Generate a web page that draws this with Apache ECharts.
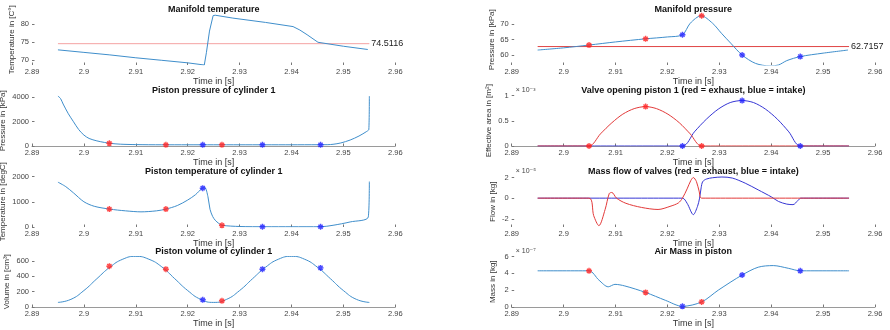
<!DOCTYPE html>
<html>
<head>
<meta charset="utf-8">
<title>Cylinder 1 cycle</title>
<script src="https://cdn.jsdelivr.net/npm/echarts@6/dist/echarts.min.js"></script>
<style>
  html, body { margin: 0; padding: 0; background: #fff; }
  #chart { width: 890px; height: 330px; }
</style>
</head>
<body>
<div id="chart"></div>
<script>
// x ticks shared by all plots
const timeTicks = [2.89, 2.9, 2.91, 2.92, 2.93, 2.94, 2.95, 2.96]

// valve events (red = exhaust, blue = intake)
const exhaustTimes = [2.9049, 2.9158, 2.9266]
const intakeTimes = [2.9229, 2.9344, 2.9456]

// manifold temperature [C]
const manifoldTempTicks = [70, 75, 80]
const manifoldTempTime = [2.895, 2.9, 2.905, 2.91, 2.915, 2.92, 2.9232, 2.9236, 2.9242, 2.9249, 2.9253, 2.9287, 2.935, 2.9403, 2.9416, 2.943, 2.9451, 2.95, 2.9547]
const manifoldTemp = [72.8, 72.1, 71.4, 70.6, 69.9, 69.2, 68.6, 72.0, 78.0, 82.3, 82.4, 81.6, 80.4, 79.25, 78.3, 77.0, 74.9, 73.8, 72.9]
const manifoldTempMean = 74.5116

// piston pressure [kPa]
const pressureTicks = [0, 2000, 4000]
const pressureTime = [2.895, 2.8955, 2.896, 2.897, 2.898, 2.899, 2.9, 2.901, 2.9025, 2.904, 2.905, 2.907, 2.91, 2.915, 2.92, 2.925, 2.93, 2.935, 2.94, 2.945, 2.947, 2.948, 2.9495, 2.9513, 2.953, 2.9545, 2.9549, 2.955]
const pistonPressure = [4100, 3900, 3450, 2650, 1990, 1350, 900, 620, 420, 290, 220, 150, 115, 100, 100, 100, 100, 100, 100, 105, 110, 140, 250, 490, 820, 1200, 1360, 4100]
const pressureExhaustMarks = [220, 100, 100]
const pressureIntakeMarks = [100, 100, 100]

// piston temperature [degC]
const pistonTempTicks = [0, 1000, 2000]
const pistonTempTime = [2.895, 2.8965, 2.898, 2.9, 2.902, 2.905, 2.908, 2.911, 2.914, 2.9158, 2.918, 2.92, 2.9215, 2.9228, 2.9233, 2.9239, 2.9243, 2.9248, 2.9253, 2.926, 2.9266, 2.93, 2.935, 2.94, 2.9456, 2.948, 2.9513, 2.9548, 2.955]
const pistonTemp = [1776, 1600, 1350, 1000, 820, 708, 640, 600, 640, 708, 850, 1068, 1280, 1536, 1560, 1200, 700, 420, 268, 140, 68, 20, 10, 10, 10, 68, 200, 400, 1800]
const tempExhaustMarks = [708, 708, 68]
const tempIntakeMarks = [1536, 10, 10]

// piston volume [cm3]
const volumeTicks = [0, 200, 400, 600]
const volumeTime = [2.895, 2.8975, 2.9, 2.9025, 2.905, 2.9075, 2.91, 2.9125, 2.915, 2.9175, 2.92, 2.9225, 2.925, 2.9275, 2.93, 2.9325, 2.935, 2.9375, 2.94, 2.9425, 2.945, 2.9475, 2.95, 2.9525, 2.955]
const pistonVolume = [60, 100, 215, 370, 520, 625, 662, 625, 525, 370, 215, 100, 60, 100, 215, 370, 520, 625, 662, 625, 520, 370, 215, 100, 60]
const volumeExhaustMarks = [533, 494, 81]
const volumeIntakeMarks = [94, 494, 511]

// manifold pressure [kPa]
const manifoldPressTicks = [60, 65, 70]
const manifoldPressTime = [2.895, 2.9, 2.9049, 2.91, 2.9158, 2.92, 2.9229, 2.9244, 2.9265, 2.9287, 2.9304, 2.9322, 2.9344, 2.937, 2.9398, 2.9414, 2.943, 2.9456, 2.95, 2.9548]
const manifoldPress = [61.6, 62.3, 63.2, 64.2, 65.2, 65.8, 66.5, 70.2, 72.6, 70.2, 67.0, 63.8, 60.0, 57.3, 56.5, 56.8, 58.2, 59.5, 60.6, 61.6]
const manifoldPressMean = 62.7157
const manifoldExhaustMarks = [63.2, 65.2, 72.6]
const manifoldIntakeMarks = [66.5, 60.0, 59.5]

// valve effective area [1e-3 m2]
const areaTicks = [0, 0.5, 1]
const exhaustAreaTime = [2.895, 2.9049, 2.9071, 2.9093, 2.9114, 2.9136, 2.9158, 2.9179, 2.9201, 2.9223, 2.9244, 2.9266, 2.955]
const exhaustArea = [0, 0, 0.24, 0.46, 0.63, 0.74, 0.78, 0.74, 0.63, 0.46, 0.24, 0, 0]
const intakeAreaTime = [2.895, 2.9229, 2.9252, 2.9275, 2.9298, 2.9321, 2.9344, 2.9366, 2.9389, 2.9412, 2.9434, 2.9456, 2.955]
const intakeArea = [0, 0, 0.28, 0.53, 0.73, 0.86, 0.9, 0.86, 0.73, 0.53, 0.28, 0, 0]
const areaExhaustMarks = [0, 0.78, 0]
const areaIntakeMarks = [0, 0.9, 0]

// valve mass flow [1e-5 kg]
const flowTicks = [-2, 0, 2]
const exhaustFlowTime = [2.895, 2.9049, 2.9058, 2.9068, 2.908, 2.9088, 2.9093, 2.9102, 2.912, 2.915, 2.9182, 2.9205, 2.9221, 2.9229, 2.9238, 2.9245, 2.925, 2.9256, 2.9261, 2.9266, 2.955]
const exhaustFlow = [0, 0, -1.7, -2.67, -1.1, 0.45, 0.55, 0, -0.5, -0.9, -1.1, -0.8, -0.47, 0, 0.9, 1.7, 2.0, 1.6, 0.7, 0, 0]
const intakeFlowTime = [2.895, 2.9229, 2.9238, 2.925, 2.9258, 2.9262, 2.9265, 2.9268, 2.9275, 2.9287, 2.9305, 2.9325, 2.935, 2.9375, 2.9401, 2.9414, 2.943, 2.9442, 2.9452, 2.9457, 2.955]
const intakeFlow = [0, 0, -0.5, -1.6, -0.8, 0, 1.0, 1.6, 1.85, 1.98, 2.05, 1.95, 1.45, 0.8, 0.1, -0.32, -0.58, -0.63, -0.2, 0, 0]

// air mass in piston [1e-7 kg]
const airMassTicks = [0, 2, 4, 6]
const airMassTime = [2.895, 2.9049, 2.9068, 2.9086, 2.9099, 2.9118, 2.9158, 2.9196, 2.9229, 2.9266, 2.9298, 2.9344, 2.9375, 2.9404, 2.9433, 2.9456, 2.955]
const airMass = [4.3, 4.3, 3.2, 2.4, 2.69, 2.5, 1.73, 0.8, 0.08, 0.6, 2.0, 3.8, 4.73, 4.92, 4.6, 4.3, 4.3]
const airExhaustMarks = [4.3, 1.73, 0.6]
const airIntakeMarks = [0.08, 3.8, 4.3]

// ---- layout / style ----
const FONT = "Liberation Sans, Arial, DejaVu Sans, sans-serif"
const COL_X = [32, 511.7]
const PLOT_W = 363.3
const ROW_TOP = [14.5, 95.5, 176.5, 256.5]
const PLOT_H = 50.5
const LINE_BLUE = "#3f8ecb"
const MARK_RED = "#ff1f1f"
const MARK_BLUE = "#1f1fff"
const EXH_RED = "#e23a3a"
const INT_BLUE = "#3636d4"
// asterisk marker (matlab '*')
const STAR = "path://M5,0L5,10M0,5L10,5M1.5,1.5L8.5,8.5M1.5,8.5L8.5,1.5"

const panels = [
  { col: 0, row: 0, title: "Manifold temperature", yName: "Temperature in [C°]", yMin: 68.6, yMax: 82.6, ticks: manifoldTempTicks, nameGap: 16, line: false },
  { col: 0, row: 1, title: "Piston pressure of cylinder 1", yName: "Pressure in [kPa]", yMin: 0, yMax: 4150, ticks: pressureTicks, nameGap: 25, line: true },
  { col: 0, row: 2, title: "Piston temperature of cylinder 1", yName: "Temperature in [degC]", yMin: 0, yMax: 2000, ticks: pistonTempTicks, nameGap: 25, line: false },
  { col: 0, row: 3, title: "Piston volume of cylinder 1", yName: "Volume in [cm³]", yMin: 0, yMax: 660, ticks: volumeTicks, nameGap: 21, line: true },
  { col: 1, row: 0, title: "Manifold pressure", yName: "Pressure in [kPa]", yMin: 56.8, yMax: 73, ticks: manifoldPressTicks, nameGap: 16, line: false },
  { col: 1, row: 1, title: "Valve opening piston 1 (red = exhaust, blue = intake)", yName: "Effective area in [m²]", yMin: 0, yMax: 1, ticks: areaTicks, nameGap: 19, line: true, exp: "× 10⁻³" },
  { col: 1, row: 2, title: "Mass flow of valves (red = exhaust, blue = intake)", yName: "Flow in [kg]", yMin: -2.8, yMax: 2.1, ticks: flowTicks, nameGap: 15, line: false, exp: "× 10⁻⁵" },
  { col: 1, row: 3, title: "Air Mass in piston", yName: "Mass in [kg]", yMin: 0, yMax: 6, ticks: airMassTicks, nameGap: 15, line: true, exp: "× 10⁻⁷" },
]

const zip = (ts, vs) => ts.map((t, i) => [t, vs[i]])

function curve(idx, ts, vs, color, smooth) {
  return {
    type: "line", xAxisIndex: idx, yAxisIndex: idx,
    data: zip(ts, vs), symbol: "none", smooth: smooth || false,
    lineStyle: { color: color, width: 1 },
  }
}

function stars(idx, ts, vs, color) {
  return {
    type: "scatter", xAxisIndex: idx, yAxisIndex: idx,
    data: zip(ts, vs), symbol: STAR, symbolSize: 6, z: 5,
    itemStyle: { color: "transparent", borderColor: color, borderWidth: 1.4 },
  }
}

function meanLine(idx, value, color) {
  return {
    type: "line", xAxisIndex: idx, yAxisIndex: idx,
    data: [[2.895, value], [2.955, value]], symbol: "none",
    lineStyle: { color: color, width: 1 },
    endLabel: { show: true, formatter: String(value), distance: 2, fontSize: 9, color: "#222", fontFamily: FONT },
  }
}

const grid = panels.map(p => ({
  left: COL_X[p.col], top: ROW_TOP[p.row], width: PLOT_W, height: PLOT_H,
  containLabel: false, outerBoundsMode: "none",
}))

const xAxis = panels.map((p, i) => ({
  type: "value", gridIndex: i, min: 2.89, max: 2.96,
  name: "Time in [s]", nameLocation: "middle", nameGap: 11,
  nameTextStyle: { fontSize: 9, color: "#333", fontFamily: FONT },
  axisLine: { show: p.line, onZero: false, lineStyle: { color: "#9a9a9a" } },
  axisTick: { show: true, inside: true, length: 2.5, customValues: timeTicks, lineStyle: { color: "#777" } },
  axisLabel: { customValues: timeTicks, margin: 3, fontSize: 7.5, color: "#444", fontFamily: FONT, formatter: v => String(+v.toFixed(2)) },
  splitLine: { show: false },
}))

const yAxis = panels.map((p, i) => ({
  type: "value", gridIndex: i, min: p.yMin, max: p.yMax,
  name: p.yName, nameLocation: "middle", nameGap: p.nameGap,
  nameTextStyle: { fontSize: 8, color: "#333", fontFamily: FONT },
  axisLine: { show: false, onZero: false },
  axisTick: { show: true, inside: true, length: 2.5, customValues: p.ticks, lineStyle: { color: "#777" } },
  axisLabel: { customValues: p.ticks, margin: 3, fontSize: 7.5, color: "#444", fontFamily: FONT, formatter: v => String(+v.toFixed(2)) },
  splitLine: { show: false },
}))

// titles and exponent tags
const graphic = []
panels.forEach(p => {
  graphic.push({
    type: "text", x: COL_X[p.col] + PLOT_W / 2, y: ROW_TOP[p.row] - 5,
    style: { text: p.title, textAlign: "center", textVerticalAlign: "middle", font: "bold 9px " + FONT, fill: "#111" },
  })
  if (p.exp) {
    graphic.push({
      type: "text", x: COL_X[p.col] + 4, y: ROW_TOP[p.row] - 5,
      style: { text: p.exp, textAlign: "left", textVerticalAlign: "middle", font: "7px " + FONT, fill: "#444" },
    })
  }
})

const series = [
  // manifold temperature
  meanLine(0, manifoldTempMean, "#f4a3a3"),
  curve(0, manifoldTempTime, manifoldTemp, LINE_BLUE),
  // piston pressure
  curve(1, pressureTime, pistonPressure, LINE_BLUE, 0.3),
  stars(1, exhaustTimes, pressureExhaustMarks, MARK_RED),
  stars(1, intakeTimes, pressureIntakeMarks, MARK_BLUE),
  // piston temperature
  curve(2, pistonTempTime, pistonTemp, LINE_BLUE, 0.3),
  stars(2, exhaustTimes, tempExhaustMarks, MARK_RED),
  stars(2, intakeTimes, tempIntakeMarks, MARK_BLUE),
  // piston volume
  curve(3, volumeTime, pistonVolume, LINE_BLUE, 0.5),
  stars(3, exhaustTimes, volumeExhaustMarks, MARK_RED),
  stars(3, intakeTimes, volumeIntakeMarks, MARK_BLUE),
  // manifold pressure
  meanLine(4, manifoldPressMean, "#e04545"),
  curve(4, manifoldPressTime, manifoldPress, LINE_BLUE, 0.3),
  stars(4, exhaustTimes, manifoldExhaustMarks, MARK_RED),
  stars(4, intakeTimes, manifoldIntakeMarks, MARK_BLUE),
  // valve opening
  curve(5, intakeAreaTime, intakeArea, INT_BLUE, 0.3),
  curve(5, exhaustAreaTime, exhaustArea, EXH_RED, 0.3),
  stars(5, exhaustTimes, areaExhaustMarks, MARK_RED),
  stars(5, intakeTimes, areaIntakeMarks, MARK_BLUE),
  // mass flow
  curve(6, intakeFlowTime, intakeFlow, INT_BLUE, 0.3),
  curve(6, exhaustFlowTime, exhaustFlow, EXH_RED, 0.3),
  // air mass
  curve(7, airMassTime, airMass, LINE_BLUE, 0.3),
  stars(7, exhaustTimes, airExhaustMarks, MARK_RED),
  stars(7, intakeTimes, airIntakeMarks, MARK_BLUE),
]

const option = {
  animation: false,
  backgroundColor: "#fff",
  textStyle: { fontFamily: FONT },
  grid, xAxis, yAxis, graphic, series,
}

const chart = echarts.init(document.getElementById("chart"), null, { renderer: "canvas" })
chart.setOption(option)
</script>
</body>
</html>
